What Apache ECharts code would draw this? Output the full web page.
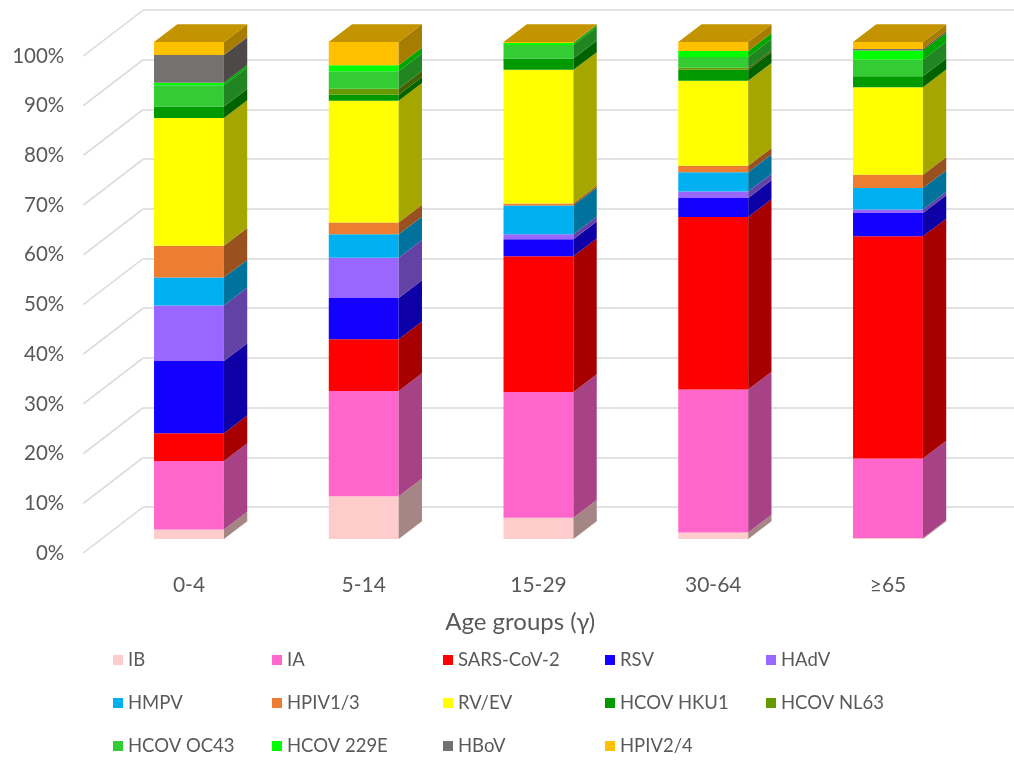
<!DOCTYPE html>
<html>
<head>
<meta charset="utf-8">
<script src="https://cdn.jsdelivr.net/npm/echarts@6/dist/echarts.min.js"></script>
<style>
  html, body { margin: 0; padding: 0; background: #ffffff; }
  #chart { width: 1014px; height: 763px; }
</style>
</head>
<body>
<div id="chart"></div>
<script>
// Age groups on the category axis
const categories = ['0-4', '5-14', '15-29', '30-64', '≥65'];
// Percentage ticks of the value axis
const percentTicks = [0, 10, 20, 30, 40, 50, 60, 70, 80, 90, 100];

// Share of each virus (%) per age group, bottom of the stack first
const IB      = [1.9, 8.6, 4.3, 1.3, 0.2];
const IA      = [13.8, 21.2, 25.3, 28.8, 16.0];
const SARS2   = [5.6, 10.4, 27.3, 34.7, 44.7];
const RSV     = [14.5, 8.3, 3.4, 3.8, 4.7];
const HAdV    = [11.2, 8.1, 1.0, 1.3, 0.7];
const HMPV    = [5.6, 4.7, 5.8, 3.9, 4.3];
const HPIV13  = [6.4, 2.4, 0.4, 1.3, 2.7];
const RVEV    = [25.7, 24.5, 26.9, 17.1, 17.6];
const HKU1    = [2.3, 1.2, 2.3, 2.2, 2.2];
const NL63    = [0, 1.2, 0, 0.4, 0];
const OC43    = [4.3, 3.5, 2.7, 2.2, 3.4];
const E229    = [0.5, 1.2, 0.4, 1.2, 1.8];
const HBoV    = [5.6, 0, 0, 0, 0.3];
const HPIV24  = [2.6, 4.7, 0.2, 1.8, 1.4];

const seriesNames  = ['IB', 'IA', 'SARS-CoV-2', 'RSV', 'HAdV', 'HMPV', 'HPIV1/3', 'RV/EV',
                      'HCOV HKU1', 'HCOV NL63', 'HCOV OC43', 'HCOV 229E', 'HBoV', 'HPIV2/4'];
const seriesValues = [IB, IA, SARS2, RSV, HAdV, HMPV, HPIV13, RVEV, HKU1, NL63, OC43, E229, HBoV, HPIV24];
const seriesColors = ['#FFCCCC', '#FF66CC', '#FF0000', '#1400FF', '#9966FF', '#00B0F0', '#ED7D31', '#FFFF00',
                      '#009900', '#669900', '#33CC33', '#00FF00', '#767171', '#FFC000'];

// Legend columns (series indices)
const legendColumns = [[0, 5, 10], [1, 6, 11], [2, 7, 12], [3, 8, 13], [4, 9]];
const legendLeft = [113, 272, 443, 605, 766];

// 3D geometry (pixels): full depth of the floor, and the column's depth
const FLOOR_DX = 60, FLOOR_DY = -46;
const BAR_DX = 23.3, BAR_DY = -17.7;
const BAR_FRAC = 0.4;
const FONT = 'Lato, "Open Sans", sans-serif';
const TEXT = '#595959';
const GRID_LINE = '#D9D9D9';

function shade(hex, k) {
  const n = parseInt(hex.slice(1), 16);
  const r = Math.round(((n >> 16) & 255) * k);
  const g = Math.round(((n >> 8) & 255) * k);
  const b = Math.round((n & 255) * k);
  return 'rgb(' + r + ',' + g + ',' + b + ')';
}

// Stack bases and the topmost non-empty segment of every column
const nCat = categories.length;
const bases = [];
const running = new Array(nCat).fill(0);
seriesValues.forEach(vals => {
  bases.push(running.slice());
  vals.forEach((v, i) => { running[i] += v; });
});
const topSeries = categories.map((c, i) => {
  let t = -1;
  seriesValues.forEach((vals, s) => { if (vals[i] > 0) t = s; });
  return t;
});

function renderSegment(params, api) {
  const i = api.value(0), lo = api.value(1), hi = api.value(2), isTop = api.value(3);
  if (hi - lo <= 0) return null;
  const band = api.size([1, 0])[0];
  const w = band * BAR_FRAC;
  const pLo = api.coord([i, lo]);
  const pHi = api.coord([i, hi]);
  const xl = pLo[0] - w / 2, xr = pLo[0] + w / 2;
  const yb = pLo[1], yt = pHi[1];
  const base = seriesColors[params.seriesIndex - 1];
  const children = [
    { type: 'rect', shape: { x: xl, y: yt, width: w, height: yb - yt },
      style: { fill: base } },
    { type: 'polygon', shape: { points: [[xr, yt], [xr, yb], [xr + BAR_DX, yb + BAR_DY], [xr + BAR_DX, yt + BAR_DY]] },
      style: { fill: shade(base, 0.65) } }
  ];
  if (isTop) {
    children.push({ type: 'polygon',
      shape: { points: [[xl, yt], [xr, yt], [xr + BAR_DX, yt + BAR_DY], [xl + BAR_DX, yt + BAR_DY]] },
      style: { fill: shade(base, 0.77) } });
  }
  return { type: 'group', children: children };
}

function renderFloorLine(params, api) {
  const p = api.coord([0, api.value(1)]);
  const x0 = params.coordSys.x;
  return { type: 'line', shape: { x1: x0, y1: p[1], x2: x0 + FLOOR_DX, y2: p[1] + FLOOR_DY },
           style: { stroke: GRID_LINE, lineWidth: 1.5 } };
}

const series = [{
  type: 'custom', name: '_floor', xAxisIndex: 0, yAxisIndex: 0, clip: false, silent: true,
  renderItem: renderFloorLine, data: percentTicks.map(v => [0, v]), z: 1
}];
seriesValues.forEach((vals, s) => {
  series.push({
    type: 'custom', name: seriesNames[s], xAxisIndex: 2, yAxisIndex: 2, clip: false,
    itemStyle: { color: seriesColors[s] },
    renderItem: renderSegment,
    encode: { x: 0, y: [1, 2] },
    data: vals.map((v, i) => [i, bases[s][i], bases[s][i] + v, topSeries[i] === s ? 1 : 0]),
    z: 3
  });
});

const legends = legendColumns.map((col, k) => ({
  orient: 'vertical', left: legendLeft[k], top: 650, padding: 0,
  itemWidth: 10, itemHeight: 10, itemGap: 23, icon: 'rect', selectedMode: false,
  textStyle: { color: TEXT, fontSize: 18.5, fontFamily: FONT, lineHeight: 20 },
  data: col.map(s => seriesNames[s])
}));

const chart = echarts.init(document.getElementById('chart'), null, { renderer: 'canvas' });
chart.setOption({
  animation: false,
  backgroundColor: '#ffffff',
  grid: [
    // front edge of the floor / side wall
    { left: 83.3, top: 56, width: 873.75, height: 497 },
    // back wall
    { left: 143.3, top: 10, right: 0, height: 497 },
    // front faces of the columns
    { left: 101.6, top: 42, width: 873.75, height: 497 }
  ],
  xAxis: [
    { gridIndex: 0, type: 'category', data: categories, axisLine: { show: false }, axisTick: { show: false },
      axisLabel: { show: false }, name: 'Age groups (γ)', nameLocation: 'middle', nameGap: 57,
      nameTextStyle: { color: TEXT, fontSize: 24, fontFamily: FONT } },
    { gridIndex: 1, type: 'value', show: false },
    { gridIndex: 2, type: 'category', data: categories, axisLine: { show: false }, axisTick: { show: false },
      axisLabel: { color: TEXT, fontSize: 21, fontFamily: FONT, margin: 36 } }
  ],
  yAxis: [
    { gridIndex: 0, type: 'value', min: 0, max: 100, interval: 10, axisLine: { show: false },
      axisTick: { show: false }, splitLine: { show: false },
      axisLabel: { formatter: '{value}%', color: TEXT, fontSize: 20.5, fontFamily: FONT, margin: 19 } },
    { gridIndex: 1, type: 'value', min: 0, max: 100, interval: 10, axisLine: { show: false },
      axisTick: { show: false }, axisLabel: { show: false },
      splitLine: { show: true, lineStyle: { color: GRID_LINE, width: 1.5 } } },
    { gridIndex: 2, type: 'value', min: 0, max: 100, show: false }
  ],
  legend: legends,
  series: series
});
</script>
</body>
</html>
